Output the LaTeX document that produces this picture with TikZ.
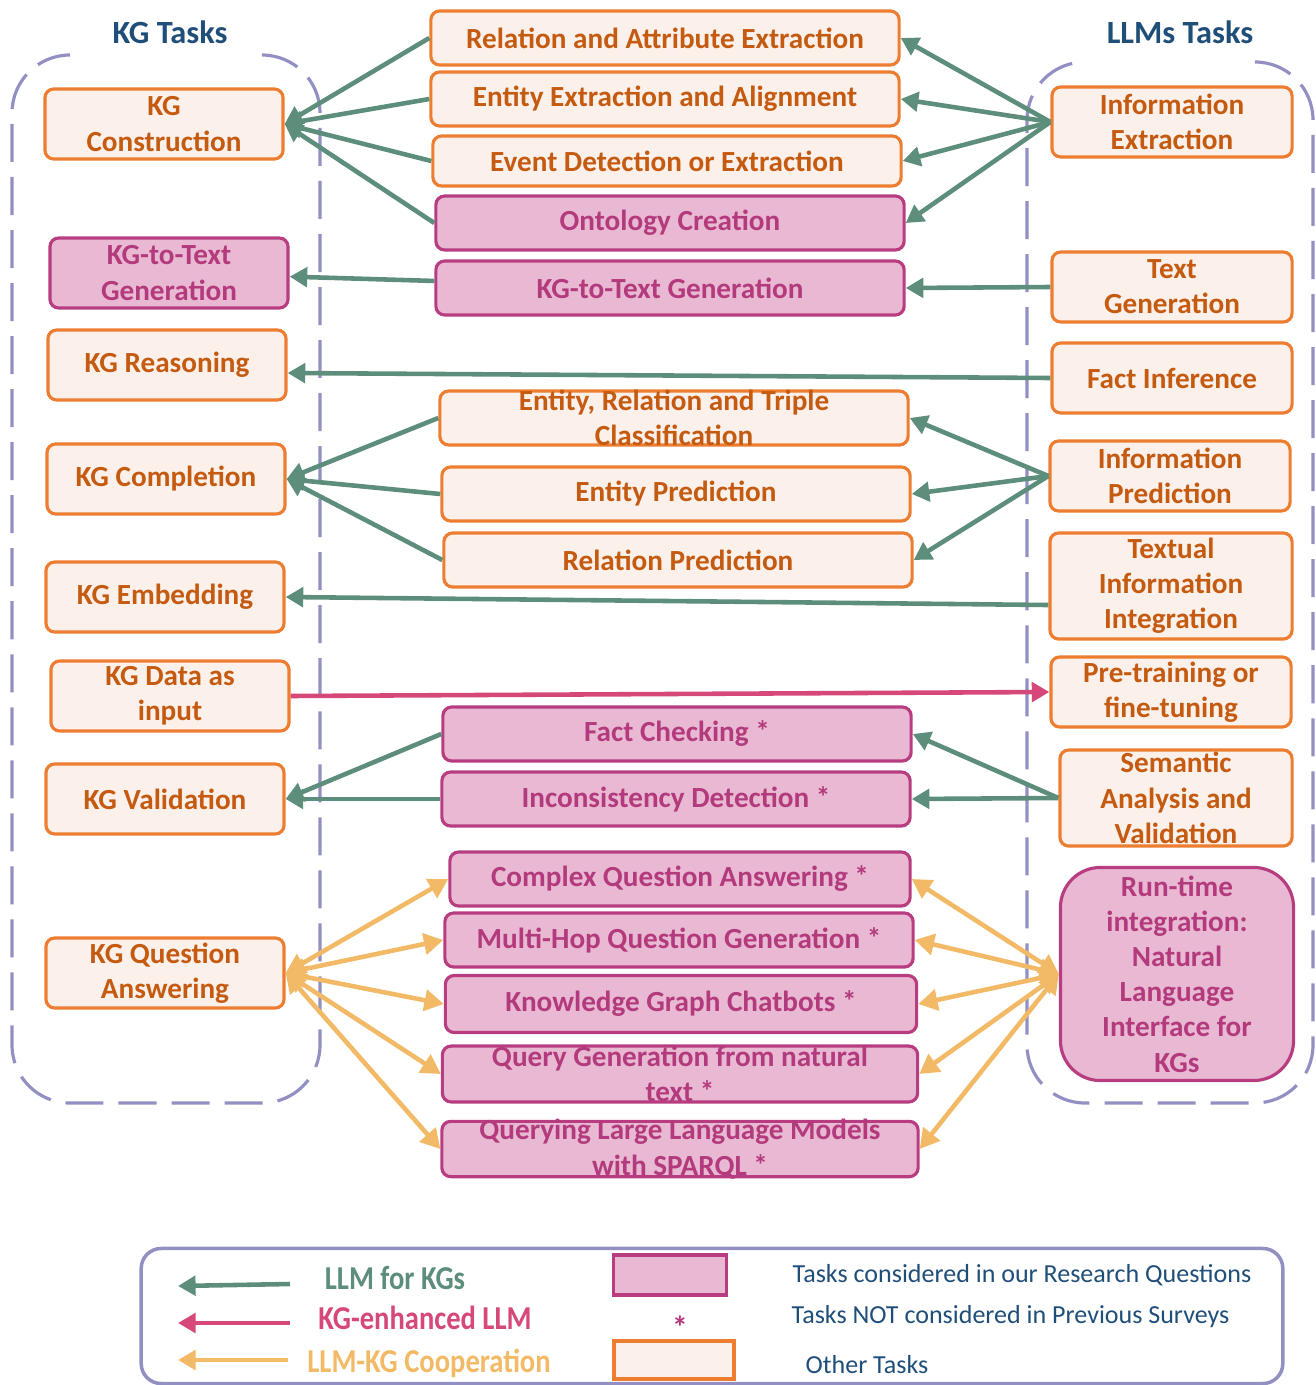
\documentclass[tikz,border=0pt]{standalone}
\usepackage{fontspec}
\setmainfont{Carlito}
\newfontfamily\narrowfont[FakeStretch=0.855]{Carlito}
\usepackage{tikz}
\usetikzlibrary{arrows.meta}

\definecolor{otherline}{HTML}{ED7D31}
\definecolor{otherfill}{HTML}{FBF0EA}
\definecolor{othertext}{HTML}{C55A11}
\definecolor{oursline}{HTML}{B83D80}
\definecolor{oursfill}{HTML}{E9B9D3}
\definecolor{ourstext}{HTML}{B33A7C}
\definecolor{arrgreen}{HTML}{5D8E7B}
\definecolor{arrpink}{HTML}{D6477A}
\definecolor{arryellow}{HTML}{F2BA66}
\definecolor{groupline}{HTML}{9290C3}
\definecolor{headblue}{HTML}{1F4E79}

\begin{document}
\begin{tikzpicture}[x=0.01cm, y=-0.01cm,
    task/.style={draw, line width=0.9pt, rounded corners=2.5pt, align=center,
      font=\fontsize{8.3}{10}\selectfont\bfseries, inner sep=1pt},
    other/.style={task, draw=otherline, fill=otherfill, text=othertext},
    ours/.style={task, draw=oursline, fill=oursfill, text=ourstext},
    kgbox/.style={minimum width=2.38cm, minimum height=0.7cm},
    midbox/.style={minimum width=4.68cm, minimum height=0.54cm},
    llmbox/.style={minimum width=2.4cm, minimum height=0.7cm},
    headline/.style={font=\fontsize{9.2}{11}\selectfont\bfseries, text=headblue},
    group/.style={draw=groupline, line width=0.9pt, dash pattern=on 0.38cm off 0.15cm, rounded corners=0.58cm},
    llmkg/.style={draw=arrgreen, line width=1.3pt, -{Triangle[length=5pt,width=5.5pt]}},
    kgllm/.style={draw=arrpink, line width=1.3pt, -{Triangle[length=5pt,width=5.5pt]}},
    coop/.style={draw=arryellow, line width=1.3pt, {Triangle[length=5.5pt,width=6pt]}-{Triangle[length=5.5pt,width=6pt]}},
    legendkey/.style={font=\fontsize{9.5}{11}\narrowfont\bfseries},
    legendtext/.style={font=\fontsize{7.4}{9}\selectfont, text=headblue, anchor=west, inner sep=0pt}]
    \useasboundingbox (0,0) rectangle (1315,1385);
    \clip (0,0) rectangle (1315,1385);
    % column headings
    \node[headline] (kgt) at (170,32) {KG Tasks};
    \node[headline] (llmt) at (1180,32) {LLMs Tasks};
    % dashed groups
    \draw[group] (262,55) -- (320,55) -- (320,1103) -- (12,1103) -- (12,55) -- (70,55);
    \draw[group] (1255,62) -- (1313,62) -- (1313,1103) -- (1027,1103) -- (1027,62) -- (1085,62);
    % KG tasks
    \node[other, kgbox] (kgc) at (164,124) {KG\\Construction};
    \node[ours, kgbox] (k2t) at (169,273) {KG-to-Text\\Generation};
    \node[other, kgbox] (kr) at (167,365) {KG Reasoning};
    \node[other, kgbox] (kc) at (166,479) {KG Completion};
    \node[other, kgbox] (ke) at (165,597) {KG Embedding};
    \node[other, kgbox] (kd) at (170,696) {KG Data as\\input};
    \node[other, kgbox] (kv) at (165,799) {KG Validation};
    \node[other, kgbox] (kqa) at (165,973) {KG Question\\Answering};
    % middle tasks
    \node[other, midbox] (rae) at (665,38) {Relation and Attribute Extraction};
    \node[other, midbox] (eea) at (665,99) {Entity Extraction and Alignment};
    \node[other, midbox, minimum height=0.5cm] (ede) at (667,161) {Event Detection or Extraction};
    \node[ours, midbox] (onc) at (670,223) {Ontology Creation};
    \node[ours, midbox] (m2t) at (670,288) {KG-to-Text Generation};
    \node[other, midbox, inner ysep=-0.045cm] (ert) at (674,418) {Entity, Relation and Triple\\Classification};
    \node[other, midbox] (enp) at (676,494) {Entity Prediction};
    \node[other, midbox] (rlp) at (678,560) {Relation Prediction};
    \node[ours, midbox] (fch) at (677,734) {Fact Checking *};
    \node[ours, midbox] (inc) at (676,799) {Inconsistency Detection *};
    \node[ours, midbox, minimum width=4.6cm] (cqa) at (680,879) {Complex Question Answering *};
    \node[ours, midbox] (mhq) at (679,940) {Multi-Hop Question Generation *};
    \node[ours, midbox, minimum width=4.71cm, minimum height=0.57cm] (kgb) at (681,1004) {Knowledge Graph Chatbots *};
    \node[ours, midbox, minimum width=4.75cm, inner ysep=0pt] (qgn) at (680,1074) {Query Generation from natural\\text *};
    \node[ours, midbox, minimum width=4.76cm, inner ysep=-0.02cm] (qsp) at (680,1149) {Querying Large Language Models\\with SPARQL *};
    % LLM tasks
    \node[other, llmbox] (iex) at (1172,122) {Information\\Extraction};
    \node[other, llmbox] (tgn) at (1172,287) {Text\\Generation};
    \node[other, llmbox] (fin) at (1172,378) {Fact Inference};
    \node[other, llmbox] (ipr) at (1170,476) {Information\\Prediction};
    \node[other, llmbox, minimum width=2.42cm, minimum height=1.06cm] (tii) at (1171,586) {Textual\\Information\\Integration};
    \node[other, llmbox, minimum width=2.32cm, minimum height=0.96cm, inner sep=0pt] (sav) at (1176,798) {Semantic\\Analysis and\\Validation};
    \node[other, llmbox] (ptf) at (1171,692) {Pre-training or\\fine-tuning};
    \node[ours, llmbox, minimum width=2.33cm, minimum height=2.13cm, rounded corners=0.4cm] (rti) at (1177,974) {Run-time\\integration:\\Natural\\Language\\Interface for\\KGs};
    % KG construction
    \draw[llmkg] (rae.west) -- (kgc.east);
    \draw[llmkg] (eea.west) -- (kgc.east);
    \draw[llmkg] (ede.west) -- (kgc.east);
    \draw[llmkg] (onc.west) -- (kgc.east);
    \draw[llmkg] (iex.west) -- (rae.east);
    \draw[llmkg] (iex.west) -- (eea.east);
    \draw[llmkg] (iex.west) -- (ede.east);
    \draw[llmkg] (iex.west) -- (onc.east);
    % generation and reasoning
    \draw[llmkg] (m2t) -- (k2t);
    \draw[llmkg] (tgn.west) -- (m2t.east);
    \draw[llmkg] (fin.west) -- ([yshift=-0.08cm]kr.east);
    % KG completion
    \draw[llmkg] (ert.west) -- (kc.east);
    \draw[llmkg] (enp.west) -- (kc.east);
    \draw[llmkg] (rlp.west) -- (kc.east);
    \draw[llmkg] (ipr.west) -- (ert.east);
    \draw[llmkg] (ipr.west) -- (enp.east);
    \draw[llmkg] (ipr.west) -- (rlp.east);
    \draw[llmkg] ([yshift=-0.19cm]tii.west) -- (ke.east);
    % KG data into the model
    \draw[kgllm] (kd.east) -- (ptf.west);
    % validation
    \draw[llmkg] (fch.west) -- (kv.east);
    \draw[llmkg] (inc.west) -- (kv.east);
    \draw[llmkg] (sav.west) -- (fch.east);
    \draw[llmkg] (sav.west) -- (inc.east);
    % question answering
    \draw[coop] (kqa.east) -- (cqa.west);
    \draw[coop] (kqa.east) -- (mhq.west);
    \draw[coop] (kqa.east) -- (kgb.west);
    \draw[coop] (kqa.east) -- (qgn.west);
    \draw[coop] (kqa.east) -- (qsp.west);
    \draw[coop] (rti.west) -- (cqa.east);
    \draw[coop] (rti.west) -- (mhq.east);
    \draw[coop] (rti.west) -- (kgb.east);
    \draw[coop] (rti.west) -- (qgn.east);
    \draw[coop] (rti.west) -- (qsp.east);
    % legend
    \node[draw=groupline, line width=1pt, rounded corners=0.2cm, minimum width=11.41cm, minimum height=1.35cm] (legend) at (712,1316) {};
    \coordinate (g1) at (290,1284);
    \coordinate (g0) at (178,1286);
    \coordinate (p1) at (290,1323);
    \coordinate (p0) at (178,1323);
    \coordinate (y1) at (288,1360);
    \coordinate (y0) at (178,1360);
    \draw[llmkg] (g1) -- (g0);
    \draw[kgllm] (p1) -- (p0);
    \draw[draw=arryellow, line width=1.3pt, -{Triangle[length=5pt,width=5.5pt]}] (y1) -- (y0);
    \node[legendkey, text=arrgreen] (lg) at (395,1278) {LLM for KGs};
    \node[legendkey, text=arrpink] (lp) at (425,1318) {KG-enhanced LLM};
    \node[legendkey, text=arryellow] (ly) at (429,1363) {LLM-KG Cooperation};
    \node[draw=oursline, fill=oursfill, line width=1pt, minimum width=1.13cm, minimum height=0.4cm] (lours) at (670,1275) {};
    \node[text=ourstext, font=\fontsize{9}{10}\selectfont\bfseries] (lstar) at (680,1327) {*};
    \node[draw=otherline, fill=otherfill, line width=1.3pt, minimum width=1.2cm, minimum height=0.38cm] (lother) at (674,1360) {};
    \node[legendtext] (t1) at (792,1275) {Tasks considered in our Research Questions};
    \node[legendtext] (t2) at (791,1317) {Tasks NOT considered in Previous Surveys};
    \node[legendtext] (t3) at (805,1365) {Other Tasks};
\end{tikzpicture}
\end{document}
